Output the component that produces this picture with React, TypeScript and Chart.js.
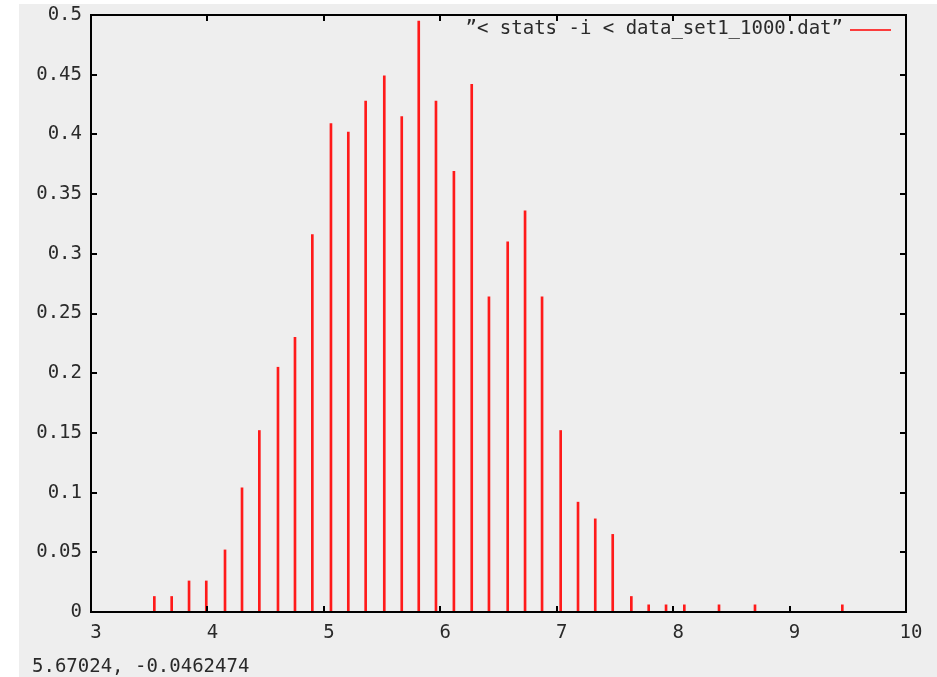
import { useEffect, useRef } from 'react';
import { Chart, registerables } from 'chart.js';

Chart.register(...registerables);

// Histogram impulses (bin centre, normalised frequency)
const binCenters = [
  3.544, 3.693, 3.842, 3.99, 4.151, 4.297, 4.446, 4.606, 4.752, 4.901,
  5.061, 5.21, 5.359, 5.519, 5.669, 5.815, 5.963, 6.117, 6.27, 6.418,
  6.579, 6.728, 6.874, 7.034, 7.183, 7.331, 7.481, 7.641, 7.79, 7.939,
  8.096, 8.394, 8.703, 9.453,
];
const density = [
  0.013, 0.013, 0.026, 0.026, 0.052, 0.104, 0.152, 0.205, 0.23, 0.316,
  0.409, 0.402, 0.428, 0.449, 0.415, 0.495, 0.428, 0.369, 0.442, 0.264,
  0.31, 0.336, 0.264, 0.152, 0.092, 0.078, 0.065, 0.013, 0.006, 0.006,
  0.006, 0.006, 0.006, 0.006,
];
const xTicks = [3, 4, 5, 6, 7, 8, 9, 10];
const xTickLabels = ['3', '4', '5', '6', '7', '8', '9', '10'];
const yTicks = [0, 0.05, 0.1, 0.15, 0.2, 0.25, 0.3, 0.35, 0.4, 0.45, 0.5];
const yTickLabels = ['0', '0.05', '0.1', '0.15', '0.2', '0.25', '0.3', '0.35', '0.4', '0.45', '0.5'];
const legendLabel = '\u201D< stats -i < data_set1_1000.dat\u201D';
const statusText = '5.67024, -0.0462474';

const FONT = '"DejaVu Sans Mono", "Liberation Mono", monospace';
const TEXT = '#2a2a2a';

export default function App() {
  const ref = useRef<HTMLCanvasElement | null>(null);

  useEffect(() => {
    const canvas = ref.current;
    if (!canvas) return;

    const decor = {
      id: 'gnuplotDecor',
      beforeDraw(chart: any) {
        const ctx = chart.ctx;
        ctx.save();
        ctx.fillStyle = '#ffffff';
        ctx.fillRect(0, 0, chart.width, chart.height);
        ctx.fillStyle = '#eeeeee';
        ctx.fillRect(19, 4, chart.width - 19, chart.height - 4);
        ctx.restore();
      },
      afterDatasetsDraw(chart: any) {
        const ctx = chart.ctx;
        const a = chart.chartArea;
        const xs = chart.scales.x;
        const ys = chart.scales.y;
        ctx.save();
        ctx.strokeStyle = '#000';
        ctx.lineWidth = 2;
        ctx.strokeRect(a.left, a.top, a.right - a.left, a.bottom - a.top);
        const tl = 6;
        ctx.beginPath();
        xTicks.forEach((v) => {
          const px = Math.round(xs.getPixelForValue(v));
          ctx.moveTo(px, a.bottom);
          ctx.lineTo(px, a.bottom - tl);
          ctx.moveTo(px, a.top);
          ctx.lineTo(px, a.top + tl);
        });
        yTicks.forEach((v) => {
          const py = Math.round(ys.getPixelForValue(v));
          ctx.moveTo(a.left, py);
          ctx.lineTo(a.left + tl, py);
          ctx.moveTo(a.right, py);
          ctx.lineTo(a.right - tl, py);
        });
        ctx.stroke();

        // legend
        ctx.font = `19px ${FONT}`;
        ctx.fillStyle = TEXT;
        ctx.textAlign = 'right';
        ctx.textBaseline = 'middle';
        ctx.fillText(legendLabel, 843, 29);
        ctx.strokeStyle = '#ff0000';
        ctx.lineWidth = 1.5;
        ctx.beginPath();
        ctx.moveTo(850, 30);
        ctx.lineTo(891, 30);
        ctx.stroke();

        // status line
        ctx.textAlign = 'left';
        ctx.textBaseline = 'alphabetic';
        ctx.fillStyle = TEXT;
        ctx.fillText(statusText, 32, 672);
        ctx.restore();
      },
    };

    const chart = new Chart(canvas, {
      type: 'bar',
      data: {
        datasets: [
          {
            label: legendLabel,
            data: binCenters.map((x, i) => ({ x, y: density[i] })),
            backgroundColor: '#ff1a1a',
            borderWidth: 0,
            barThickness: 2,
          } as any,
        ],
      },
      options: {
        responsive: false,
        animation: false,
        devicePixelRatio: 1,
        layout: { padding: { left: 0, top: 15, right: 31, bottom: 0 } },
        plugins: { legend: { display: false }, tooltip: { enabled: false } },
        scales: {
          x: {
            type: 'linear',
            min: 3,
            max: 10,
            offset: false,
            grid: { display: false, drawTicks: false },
            border: { display: false },
            afterBuildTicks: (s: any) => {
              s.ticks = xTicks.map((v) => ({ value: v }));
            },
            afterFit: (s: any) => {
              s.height = 65;
              s.paddingLeft = 0;
              s.paddingRight = 0;
            },
            ticks: {
              autoSkip: false,
              maxRotation: 0,
              padding: 10,
              labelOffset: 5,
              color: TEXT,
              font: { family: FONT, size: 19 },
              callback: (_v: any, i: number) => xTickLabels[i],
            },
          },
          y: {
            type: 'linear',
            min: 0,
            max: 0.5,
            grid: { display: false, drawTicks: false },
            border: { display: false },
            afterBuildTicks: (s: any) => {
              s.ticks = yTicks.map((v) => ({ value: v }));
            },
            afterFit: (s: any) => {
              s.width = 91;
              s.paddingTop = 0;
              s.paddingBottom = 0;
            },
            ticks: {
              autoSkip: false,
              padding: 9,
              color: TEXT,
              font: { family: FONT, size: 19 },
              callback: (_v: any, i: number) => yTickLabels[i],
            },
          },
        },
      },
      plugins: [decor],
    });

    return () => chart.destroy();
  }, []);

  return (
    <div style={{ position: 'absolute', left: 0, top: 0, width: 937, height: 677 }}>
      <canvas ref={ref} width={937} height={677} style={{ display: 'block' }} />
    </div>
  );
}
